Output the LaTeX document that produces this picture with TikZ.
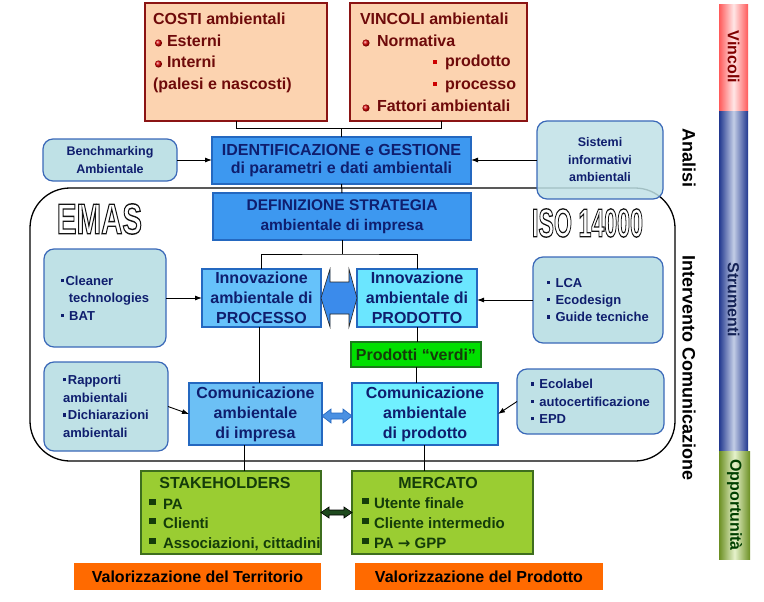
\documentclass[tikz,border=0pt]{standalone}
\usepackage{fontspec}
\setmainfont{Liberation Sans}
\newfontfamily\djv{DejaVu Sans}
\usetikzlibrary{arrows.meta,calc}
\definecolor{peach}{HTML}{FCD3B0}
\definecolor{maroonb}{HTML}{8B1414}
\definecolor{mtext}{HTML}{6E0A0A}
\definecolor{blueboxc}{HTML}{3D98F0}
\definecolor{blueborder}{HTML}{2468C0}
\definecolor{navy}{HTML}{0F1E6E}
\definecolor{procfill}{HTML}{66C2FA}
\definecolor{prodfill}{HTML}{6BE6FF}
\definecolor{impfill}{HTML}{6CC0F5}
\definecolor{cprodfill}{HTML}{70F0FF}
\definecolor{sidefill}{HTML}{BFE1E6}
\definecolor{sideborder}{HTML}{3A68B8}
\definecolor{verdefill}{HTML}{00E000}
\definecolor{verdeborder}{HTML}{1A7A1A}
\definecolor{olivec}{HTML}{9ACD32}
\definecolor{oliveborder}{HTML}{3E6E1E}
\definecolor{dkgreen}{HTML}{143C0A}
\definecolor{orangebar}{HTML}{FF6A00}
\definecolor{arrowblue}{HTML}{3B8BEB}
\definecolor{smallblue}{HTML}{4A90E2}
\definecolor{darrow}{HTML}{1E4A1E}
\definecolor{barblue}{HTML}{22388F}
\definecolor{barbluemid}{HTML}{C3CDE6}
\definecolor{barred}{HTML}{FF5A5A}
\definecolor{barredmid}{HTML}{FFE6E6}
\newcommand\sqb{\raisebox{0.25em}{\rule{3.2pt}{3.2pt}}\hspace{1.5pt}}
\newcommand\outl[1]{\special{pdf:literal direct 1 Tr 1.3 w 0.08 0.08 0.08 RG}#1\special{pdf:literal direct 0 Tr}}
\tikzset{
  topbox/.style={draw=maroonb, line width=1.5pt, fill=peach, anchor=north west, inner sep=0pt},
  ttxt/.style={anchor=base west, inner sep=0pt, text=mtext, font=\fontsize{16}{19}\selectfont\bfseries},
  bbox/.style={draw=blueborder, line width=1.2pt, anchor=north west, inner sep=0pt, align=center, text=navy, font=\fontsize{16}{19.5}\selectfont\bfseries},
  sidebox/.style={draw=sideborder, line width=1.2pt, fill=sidefill, rounded corners=10pt, anchor=north west, inner sep=0pt, text=navy, font=\fontsize{13}{17.3}\selectfont\bfseries},
  gbox/.style={draw=oliveborder, line width=1.3pt, fill=olivec, anchor=north west, inner sep=0pt},
  gtxt/.style={anchor=base west, inner sep=0pt, text=dkgreen, font=\fontsize{15}{19}\selectfont\bfseries},
  gtitle/.style={anchor=base, inner sep=0pt, text=dkgreen, font=\fontsize{16}{19}\selectfont\bfseries},
  obox/.style={fill=orangebar, anchor=north west, inner sep=0pt, text=black, font=\fontsize{16}{19}\selectfont\bfseries},
  conn/.style={line width=1pt, draw=black},
  arr/.style={line width=0.9pt, -{Latex[length=7pt,width=5pt]}},
  sidetxt/.style={rotate=-90, inner sep=0pt, font=\fontsize{16}{19}\selectfont\bfseries},
  bigtxt/.style={rotate=-90, inner sep=0pt, text=black, font=\fontsize{18}{20}\selectfont\bfseries}
}
\begin{document}
\begin{tikzpicture}[x=1pt,y=-1pt,every node/.style={outer sep=0pt}]
\useasboundingbox (0,0) rectangle (764,602);

% frame
\draw[line width=1.3pt, rounded corners=40pt] (30,188) rectangle (675,461);

% top boxes
\node[topbox, minimum width=182, minimum height=118] (costi) at (145,3) {};
\node[topbox, minimum width=177, minimum height=118] (vinc) at (350,3) {};
\node[ttxt] (c1) at (153,25) {COSTI ambientali};
\node[ttxt] (c2) at (167,47) {Esterni};
\node[ttxt] (c3) at (167,68) {Interni};
\node[ttxt] (c4) at (153,89) {(palesi e nascosti)};
\shade[ball color=red!85!black] (158.5,43) circle (3.6);
\shade[ball color=red!85!black] (158.5,64) circle (3.6);
\node[ttxt] (v1) at (360,25) {VINCOLI ambientali};
\node[ttxt] (v2) at (377,47) {Normativa};
\node[ttxt] (v3) at (445,67) {prodotto};
\node[ttxt] (v4) at (445,89) {processo};
\node[ttxt] (v5) at (377,112) {Fattori ambientali};
\shade[ball color=red!85!black] (366,43) circle (3.6);
\shade[ball color=red!85!black] (366,108) circle (3.6);
\fill[red!80!black] (433,60.5) rectangle (437,64.5);
\fill[red!80!black] (433,82.5) rectangle (437,86.5);

% analysis row
\node[sidebox, align=center, minimum width=134, minimum height=42, font=\fontsize{12.5}{17.5}\selectfont\bfseries] (bench) at (43,139) {Benchmarking\\Ambientale};
\node[bbox, fill=blueboxc, minimum width=259, minimum height=47, font=\fontsize{16}{18.5}\selectfont\bfseries] (ident) at (212,137) {IDENTIFICAZIONE e GESTIONE\\di parametri e dati ambientali};
\node[sidebox, fill opacity=0.85, text opacity=1, align=center, minimum width=126, minimum height=78, font=\fontsize{12.5}{17.5}\selectfont\bfseries] (sist) at (537,121) {Sistemi\\informativi\\ambientali};
\node[bbox, fill=blueboxc, minimum width=258, minimum height=47, font=\fontsize{15.5}{19.5}\selectfont\bfseries] (def) at (213,193) {DEFINIZIONE STRATEGIA\\ambientale di impresa};

% EMAS / ISO
\node (emas) at (99.5,219) {\resizebox{85pt}{30pt}{\fontsize{40}{44}\selectfont\bfseries\outl{EMAS}}};
\node (iso) at (587.5,223) {\resizebox{111pt}{28pt}{\fontsize{40}{44}\selectfont\bfseries\outl{ISO 14000}}};

% innovation row
\node[sidebox, align=left, minimum width=122, minimum height=98] (clean) at (44,249) {\sqb Cleaner\\\hspace*{8pt}technologies\\\sqb\ BAT};
\node[bbox, fill=procfill, minimum width=119, minimum height=58, font=\fontsize{16}{20}\selectfont\bfseries] (proc) at (202,269) {Innovazione\\ambientale di\\PROCESSO};
\node[bbox, fill=prodfill, minimum width=120, minimum height=58, font=\fontsize{16}{20}\selectfont\bfseries] (prod) at (357,269) {Innovazione\\ambientale di\\PRODOTTO};
\node[sidebox, align=left, minimum width=130, minimum height=86] (lca) at (533,257) {\sqb\ LCA\\\sqb\ Ecodesign\\\sqb\ Guide tecniche};

\node[draw=verdeborder, line width=1.2pt, fill=verdefill, anchor=north west, inner sep=0pt, minimum width=130, minimum height=25, text=dkgreen, font=\fontsize{16}{19}\selectfont\bfseries] (verdi) at (351,342) {Prodotti “verdi”};

% communication row
\node[sidebox, align=left, minimum width=124, minimum height=89, font=\fontsize{13}{17.6}\selectfont\bfseries] (rap) at (44,362) {\sqb Rapporti\\ambientali\\\sqb Dichiarazioni\\ambientali};
\node[bbox, fill=impfill, minimum width=133, minimum height=62, font=\fontsize{16}{20}\selectfont\bfseries] (imp) at (189,383) {Comunicazione\\ambientale\\di impresa};
\node[bbox, fill=cprodfill, minimum width=146, minimum height=62, font=\fontsize{16}{20}\selectfont\bfseries] (cprod) at (352,383) {Comunicazione\\ambientale\\di prodotto};
\node[sidebox, align=left, minimum width=147, minimum height=65] (eco) at (517,369) {\sqb\ Ecolabel\\\sqb\ autocertificazione\\\sqb\ EPD};

% stakeholders / mercato
\node[gbox, minimum width=180, minimum height=83] (stake) at (141,471) {};
\node[gbox, minimum width=181, minimum height=83] (merc) at (352,471) {};
\node[gtitle] (s0) at (225,488) {STAKEHOLDERS};
\node[gtxt] (s1) at (163,509) {PA};
\node[gtxt] (s2) at (163,528) {Clienti};
\node[gtxt] (s3) at (163,548) {Associazioni, cittadini};
\fill[dkgreen] (149,498.5) rectangle (155.5,505);
\fill[dkgreen] (149,517.5) rectangle (155.5,524);
\fill[dkgreen] (149,537.5) rectangle (155.5,544);
\node[gtitle] (m0) at (438,488) {MERCATO};
\node[gtxt] (m1) at (374,508) {Utente finale};
\node[gtxt] (m2) at (374,528) {Cliente intermedio};
\node[gtxt] (m3) at (374,548) {PA {\djv\bfseries →} GPP};
\fill[dkgreen] (362,497.5) rectangle (368.5,504);
\fill[dkgreen] (362,517.5) rectangle (368.5,524);
\fill[dkgreen] (362,537.5) rectangle (368.5,544);

\node[obox, minimum width=247, minimum height=27] (valt) at (74,563) {Valorizzazione del Territorio};
\node[obox, minimum width=248, minimum height=27] (valp) at (355,563) {Valorizzazione del Prodotto};

% connectors
\draw[conn] (costi.south) -- ++(0,8) -| ([xshift=2.5pt]vinc.south);
\draw[conn] (ident.north) -- ++(0,-8);
\draw[conn] (ident.south) -- (def.north);
\draw[conn] (def.south) -- ++(0,14) coordinate (dj);
\draw[conn] (proc.north) |- (dj) -| (prod.north);
\draw[conn] (prod.south) -- (prod.south |- verdi.north);
\draw[conn] (verdi.south) -- (verdi.south |- cprod.north);
\draw[conn] ([xshift=-2pt]proc.south) -- ([xshift=-2pt]proc.south |- imp.north);
\draw[conn] ([xshift=-11pt]imp.south) -- ([xshift=-11pt]imp.south |- stake.north);
\draw[conn] ([xshift=-1pt]cprod.south) -- ([xshift=-1pt]cprod.south |- merc.north);

\draw[arr] (bench.east) -- (bench.east -| ident.west);
\draw[arr] (sist.west) -- (sist.west -| ident.east);
\draw[arr] (clean.east) -- (clean.east -| proc.west);
\draw[arr] (lca.west) -- (lca.west -| prod.east);
\draw[arr] (rap.east) -- (imp.west);
\draw[arr] (eco.west) -- (cprod.east);

% double arrows
\draw[line width=0.6pt, draw=black!85, fill=arrowblue] (proc.east) -- ++(9,-29) -- ++(0,13) -- ++(19,0) -- ++(0,-13) -- (prod.west) -- ++(-8,29) -- ++(0,-13) -- ++(-19,0) -- ++(0,13) -- cycle;
\draw[line width=0.7pt, draw=blueborder, fill=smallblue] ([yshift=-2pt]imp.east) -- ++(9,-7) -- ++(0,4) -- ++(12,0) -- ++(0,-4) -- ([yshift=-2pt]cprod.west) -- ++(-9,7) -- ++(0,-4) -- ++(-12,0) -- ++(0,4) -- cycle;
\draw[line width=0.6pt, draw=black, fill=darrow] (stake.east) -- ++(8,-5.5) -- ++(0,3) -- ++(15,0) -- ++(0,-3) -- (merc.west) -- ++(-8,5.5) -- ++(0,-3) -- ++(-15,0) -- ++(0,3) -- cycle;

% side texts
\node[bigtxt] (an) at (689,158) {Analisi};
\node[bigtxt] (ic) at (689,368) {Intervento Comunicazione};

% right bar
\shade[left color=barred, right color=barred, middle color=barredmid] (719,5) rectangle (748,112);
\shade[left color=barblue, right color=barblue, middle color=barbluemid] (719,112) rectangle (748,451);
\shade[left color=olivec!70!black, right color=olivec!70!black, middle color=olivec!25] (719,451) rectangle (750,559);
\node[sidetxt, text=red!50!black] (vt) at (733.5,57) {Vincoli};
\node[sidetxt, text=barblue!60!black] (st) at (733.5,300) {Strumenti};
\node[sidetxt, text=green!25!black] (ot) at (734.5,505) {Opportunità};
\end{tikzpicture}
\end{document}
